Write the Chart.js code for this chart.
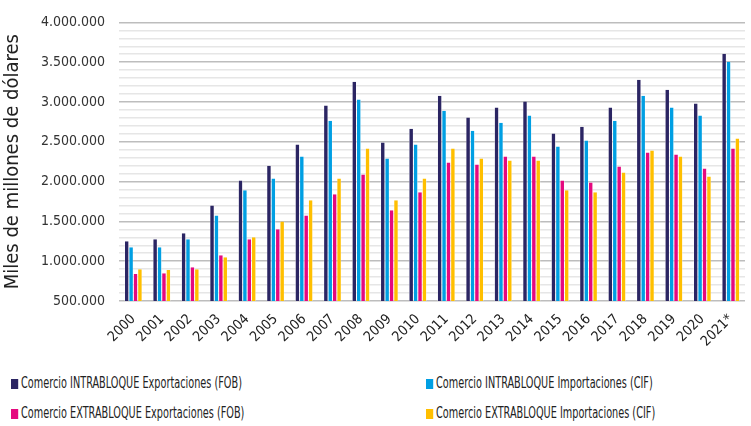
<!DOCTYPE html>
<html>
<head>
<meta charset="utf-8">
<script src="https://cdn.jsdelivr.net/npm/chart.js@4.4.0/dist/chart.umd.min.js"></script>
<style>
  html, body { margin: 0; padding: 0; background: #fff; }
  #wrap { position: relative; width: 751px; height: 426px; }
  #chartBox { position: absolute; left: 0; top: 0; width: 751px; height: 352px; }
  .leg { position: absolute; font-family: "Liberation Sans Narrow", "DejaVu Sans Condensed", sans-serif;
         font-size: 15px; color: #222; white-space: nowrap; transform-origin: 0 50%; transform: scaleX(0.72); }
  .leg span { display: inline-block; width: 10px; height: 10px; margin-right: 4px; vertical-align: -1px; }
</style>
</head>
<body>
<div id="wrap">
  <div id="chartBox"><canvas id="tradeChart"></canvas></div>
  <div class="leg" style="left:11px; top:374px;"><span style="background:#2b2563"></span>Comercio INTRABLOQUE Exportaciones (FOB)</div>
  <div class="leg" style="left:426px; top:374px;"><span style="background:#009fe3"></span>Comercio INTRABLOQUE Importaciones (CIF)</div>
  <div class="leg" style="left:11px; top:404px;"><span style="background:#e5097f"></span>Comercio EXTRABLOQUE Exportaciones (FOB)</div>
  <div class="leg" style="left:426px; top:404px;"><span style="background:#ffbf00"></span>Comercio EXTRABLOQUE Importaciones (CIF)</div>
</div>
<script>
// Data (miles de millones de dólares)
const years = ['2000', '2001', '2002', '2003', '2004', '2005', '2006', '2007', '2008', '2009', '2010',
               '2011', '2012', '2013', '2014', '2015', '2016', '2017', '2018', '2019', '2020', '2021*'];
const intraExport = [1250000, 1275000, 1350000, 1700000, 2015000, 2200000, 2465000, 2955000, 3255000, 2490000, 2665000,
                     3080000, 2805000, 2930000, 3005000, 2605000, 2690000, 2930000, 3280000, 3155000, 2980000, 3605000];
const intraImport = [1175000, 1175000, 1275000, 1575000, 1890000, 2040000, 2315000, 2765000, 3030000, 2290000, 2465000,
                     2890000, 2640000, 2740000, 2830000, 2440000, 2515000, 2765000, 3080000, 2930000, 2830000, 3505000];
const extraExport = [840000, 850000, 925000, 1075000, 1275000, 1400000, 1575000, 1840000, 2090000, 1640000, 1865000,
                     2240000, 2215000, 2315000, 2315000, 2015000, 1990000, 2190000, 2365000, 2340000, 2165000, 2415000];
const extraImport = [900000, 890000, 900000, 1050000, 1300000, 1500000, 1765000, 2040000, 2415000, 1765000, 2040000,
                     2415000, 2290000, 2265000, 2265000, 1890000, 1865000, 2115000, 2390000, 2315000, 2065000, 2540000];

const fontFam = '"Liberation Sans Narrow", "DejaVu Sans Condensed", sans-serif';

function fmt(v) {
    return String(v).replace(/\B(?=(\d{3})+(?!\d))/g, '.');
}

function makeSet(label, data, color) {
    return {
        label: label,
        data: data,
        backgroundColor: color,
        borderColor: '#ffffff',
        borderWidth: { left: 0.5, right: 0.5, top: 0, bottom: 0 },
        barPercentage: 1.0,
        categoryPercentage: 0.62
    };
}

const ctx = document.getElementById('tradeChart').getContext('2d');
new Chart(ctx, {
    type: 'bar',
    data: {
        labels: years,
        datasets: [
            makeSet('Comercio INTRABLOQUE Exportaciones (FOB)', intraExport, '#2b2563'),
            makeSet('Comercio INTRABLOQUE Importaciones (CIF)', intraImport, '#009fe3'),
            makeSet('Comercio EXTRABLOQUE Exportaciones (FOB)', extraExport, '#e5097f'),
            makeSet('Comercio EXTRABLOQUE Importaciones (CIF)', extraImport, '#ffbf00')
        ]
    },
    options: {
        responsive: true,
        maintainAspectRatio: false,
        animation: false,
        layout: { padding: { left: 1, right: 6, top: 14, bottom: 0 } },
        plugins: {
            legend: { display: false },
            tooltip: { enabled: false }
        },
        scales: {
            x: {
                grid: { display: false },
                border: { display: false },
                ticks: {
                    color: '#222',
                    font: { family: fontFam, size: 14 },
                    minRotation: 45,
                    maxRotation: 45,
                    padding: 2
                }
            },
            y: {
                min: 500000,
                max: 4000000,
                border: { display: false },
                grid: {
                    drawTicks: false,
                    color: c => (c.tick && c.tick.value % 500000 === 0) ? '#bdbdbd' : '#e6e6e6',
                    lineWidth: 1.5
                },
                ticks: {
                    stepSize: 100000,
                    autoSkip: false,
                    color: '#333',
                    padding: 14,
                    font: { family: fontFam, size: 14 },
                    callback: v => (v % 500000 === 0) ? fmt(v) : ''
                },
                title: {
                    display: true,
                    text: 'Miles de millones de dólares',
                    color: '#222',
                    font: { family: fontFam, size: 20 },
                    padding: { top: 0, bottom: 2 }
                }
            }
        }
    }
});
</script>
</body>
</html>
